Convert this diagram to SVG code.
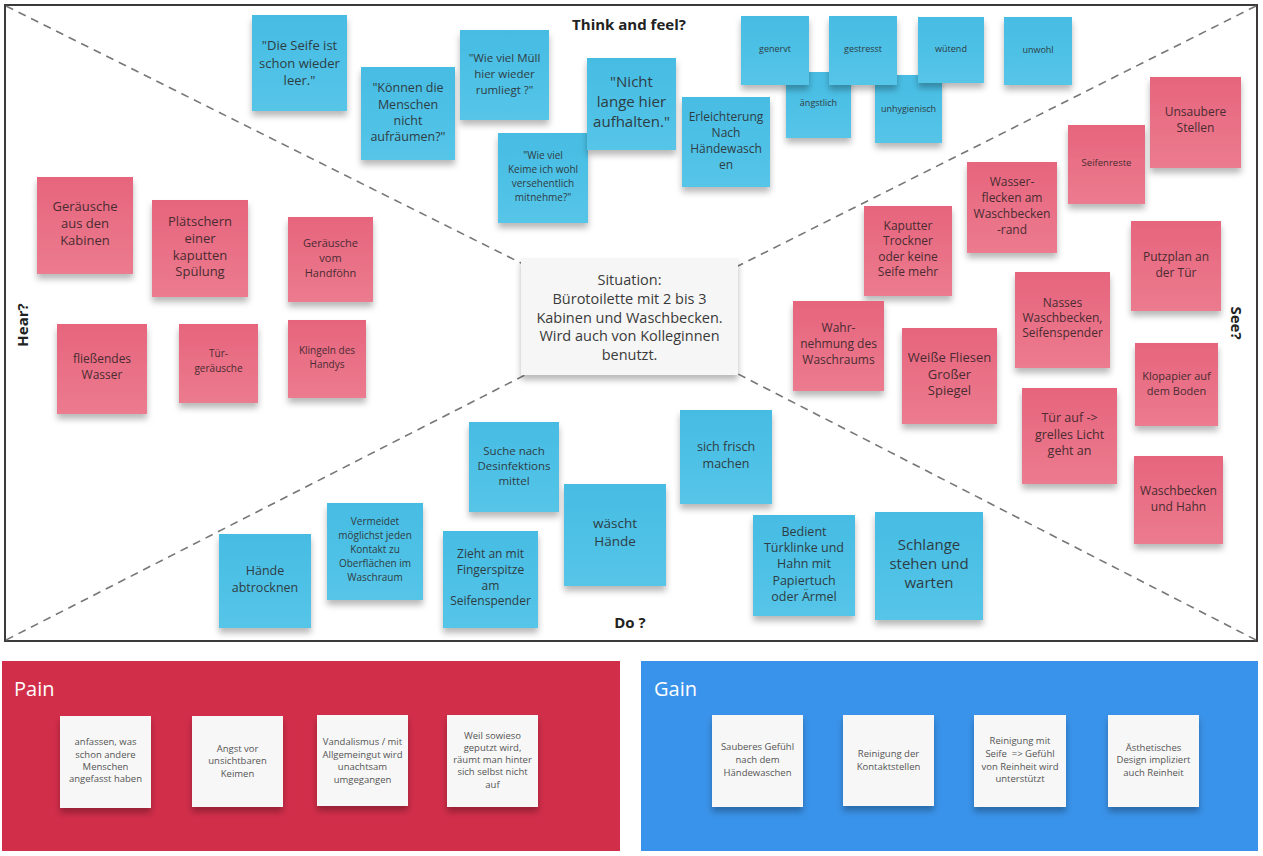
<svg xmlns="http://www.w3.org/2000/svg" width="1263" height="856" viewBox="0 0 1263 856">
<defs>
<filter id="sh" x="-20%" y="-20%" width="140%" height="150%">
<feDropShadow dx="0" dy="5" stdDeviation="3" flood-color="#000" flood-opacity="0.28"/>
</filter>
<linearGradient id="gb" x1="0" y1="0" x2="0" y2="1"><stop offset="0" stop-color="#47bce3"/><stop offset="1" stop-color="#55c5e8"/></linearGradient>
<linearGradient id="gr" x1="0" y1="0" x2="0" y2="1"><stop offset="0" stop-color="#e6657d"/><stop offset="1" stop-color="#ec7b8f"/></linearGradient>
</defs>
<style>
.b{fill:url(#gb);filter:url(#sh)}
.r{fill:url(#gr);filter:url(#sh)}
.w{fill:#f7f7f7;filter:url(#sh)}
text{font-family:"Open Sans","Noto Sans",sans-serif;text-anchor:middle;dominant-baseline:central}
.tb{fill:#2e3d44}
.tr{fill:#4a2b31}
.tw{fill:#555;font-size:9.5px}
.lbl{font-weight:bold;fill:#222;font-size:15px}
.dash{stroke:#777;stroke-width:1.6;stroke-dasharray:8 6;fill:none}
</style>
<rect x="0" y="0" width="1263" height="856" fill="#fff"/>
<rect x="5" y="5" width="1252" height="636" fill="#fff" stroke="#3a3a3a" stroke-width="2"/>
<g id="connectors">
<line class="dash" x1="6" y1="6" x2="525" y2="265"/>
<line class="dash" x1="1256" y1="6" x2="738" y2="266"/>
<line class="dash" x1="6" y1="640" x2="527" y2="374"/>
<line class="dash" x1="1256" y1="640" x2="738" y2="374"/>
</g>
<g id="situation">
<rect x="521" y="258" width="217" height="117" fill="#f6f6f6" filter="url(#sh)"/>
<text fill="#3a3a3a" font-size="14.5"><tspan x="629.5" y="279">Situation:</tspan><tspan x="629.5" y="298">Bürotoilette mit 2 bis 3</tspan><tspan x="629.5" y="317">Kabinen und Waschbecken.</tspan><tspan x="629.5" y="335">Wird auch von Kolleginnen</tspan><tspan x="629.5" y="354">benutzt.</tspan></text>
</g>
<g id="labels">
<text class="lbl" x="629" y="24">Think and feel?</text>
<text class="lbl" x="630" y="622">Do ?</text>
<text class="lbl" transform="translate(22 325) rotate(-90)" x="0" y="0">Hear?</text>
<text class="lbl" transform="translate(1237 323) rotate(90)" x="0" y="0">See?</text>
</g>
<!-- Think and feel -->
<g id="n-seife"><rect class="b" x="252" y="15" width="95" height="96"/><text class="tb" font-size="13"><tspan x="299.5" y="45">"Die Seife ist</tspan><tspan x="299.5" y="63">schon wieder</tspan><tspan x="299.5" y="80">leer."</tspan></text></g>
<g id="n-koennen"><rect class="b" x="361" y="67" width="94" height="93"/><text class="tb" font-size="12.5"><tspan x="408" y="87">"Können die</tspan><tspan x="408" y="104">Menschen</tspan><tspan x="408" y="120">nicht</tspan><tspan x="408" y="136">aufräumen?"</tspan></text></g>
<g id="n-muell"><rect class="b" x="460" y="30" width="89" height="90"/><text class="tb" font-size="11.5"><tspan x="504.5" y="57">"Wie viel Müll</tspan><tspan x="504.5" y="73">hier wieder</tspan><tspan x="504.5" y="89">rumliegt ?"</tspan></text></g>
<g id="n-keime"><rect class="b" x="498" y="133" width="90" height="90"/><text class="tb" font-size="10"><tspan x="543" y="155">"Wie viel</tspan><tspan x="543" y="169">Keime ich wohl</tspan><tspan x="543" y="183">versehentlich</tspan><tspan x="543" y="197">mitnehme?"</tspan></text></g>
<g id="n-nicht"><rect class="b" x="587" y="58" width="89" height="92"/><text class="tb" font-size="15"><tspan x="631.5" y="81">"Nicht</tspan><tspan x="631.5" y="101">lange hier</tspan><tspan x="631.5" y="121">aufhalten."</tspan></text></g>
<g id="n-erleichterung"><rect class="b" x="682" y="97" width="88" height="90"/><text class="tb" font-size="12"><tspan x="726" y="116">Erleichterung</tspan><tspan x="726" y="132">Nach</tspan><tspan x="726" y="148">Händewasch</tspan><tspan x="726" y="164">en</tspan></text></g>
<g id="n-aengstlich"><rect class="b" x="786" y="72" width="65" height="66"/><text class="tb" font-size="9"><tspan x="818.5" y="102">ängstlich</tspan></text></g>
<g id="n-unhygienisch"><rect class="b" x="875" y="75" width="67" height="68"/><text class="tb" font-size="9"><tspan x="908.5" y="108">unhygienisch</tspan></text></g>
<g id="n-genervt"><rect class="b" x="741" y="16" width="68" height="69"/><text class="tb" font-size="9"><tspan x="775" y="48">genervt</tspan></text></g>
<g id="n-gestresst"><rect class="b" x="829" y="16" width="68" height="69"/><text class="tb" font-size="9"><tspan x="863" y="48">gestresst</tspan></text></g>
<g id="n-wuetend"><rect class="b" x="918" y="17" width="66" height="66"/><text class="tb" font-size="9"><tspan x="951" y="48">wütend</tspan></text></g>
<g id="n-unwohl"><rect class="b" x="1004" y="17" width="68" height="68"/><text class="tb" font-size="9"><tspan x="1038" y="49">unwohl</tspan></text></g>
<!-- Hear -->
<g id="n-kabinen"><rect class="r" x="37" y="177" width="96" height="97"/><text class="tr" font-size="13"><tspan x="85" y="206">Geräusche</tspan><tspan x="85" y="223">aus den</tspan><tspan x="85" y="240">Kabinen</tspan></text></g>
<g id="n-plaetschern"><rect class="r" x="152" y="200" width="96" height="97"/><text class="tr" font-size="13"><tspan x="200" y="221">Plätschern</tspan><tspan x="200" y="238">einer</tspan><tspan x="200" y="255">kaputten</tspan><tspan x="200" y="271">Spülung</tspan></text></g>
<g id="n-handfoehn"><rect class="r" x="288" y="217" width="85" height="85"/><text class="tr" font-size="11"><tspan x="330.5" y="242">Geräusche</tspan><tspan x="330.5" y="257">vom</tspan><tspan x="330.5" y="272">Handföhn</tspan></text></g>
<g id="n-wasser"><rect class="r" x="57" y="324" width="90" height="90"/><text class="tr" font-size="12"><tspan x="102" y="358">fließendes</tspan><tspan x="102" y="374">Wasser</tspan></text></g>
<g id="n-tuer"><rect class="r" x="179" y="324" width="79" height="79"/><text class="tr" font-size="10"><tspan x="218.5" y="353">Tür-</tspan><tspan x="218.5" y="368">geräusche</tspan></text></g>
<g id="n-handy"><rect class="r" x="288" y="320" width="78" height="78"/><text class="tr" font-size="10"><tspan x="327" y="350">Klingeln des</tspan><tspan x="327" y="364">Handys</tspan></text></g>
<!-- See -->
<g id="n-unsauber"><rect class="r" x="1150" y="77" width="91" height="91"/><text class="tr" font-size="12"><tspan x="1195.5" y="111">Unsaubere</tspan><tspan x="1195.5" y="127">Stellen</tspan></text></g>
<g id="n-seifenreste"><rect class="r" x="1068" y="125" width="77" height="79"/><text class="tr" font-size="9.5"><tspan x="1106.5" y="162">Seifenreste</tspan></text></g>
<g id="n-flecken"><rect class="r" x="967" y="162" width="90" height="91"/><text class="tr" font-size="12"><tspan x="1012" y="181">Wasser-</tspan><tspan x="1012" y="197">flecken am</tspan><tspan x="1012" y="213">Waschbecken</tspan><tspan x="1012" y="229">-rand</tspan></text></g>
<g id="n-trockner"><rect class="r" x="864" y="206" width="88" height="90"/><text class="tr" font-size="12"><tspan x="908" y="225">Kaputter</tspan><tspan x="908" y="240">Trockner</tspan><tspan x="908" y="256">oder keine</tspan><tspan x="908" y="271">Seife mehr</tspan></text></g>
<g id="n-putzplan"><rect class="r" x="1131" y="221" width="90" height="90"/><text class="tr" font-size="12"><tspan x="1176" y="256">Putzplan an</tspan><tspan x="1176" y="272">der Tür</tspan></text></g>
<g id="n-nasses"><rect class="r" x="1015" y="272" width="95" height="96"/><text class="tr" font-size="12"><tspan x="1062.5" y="302">Nasses</tspan><tspan x="1062.5" y="317">Waschbecken,</tspan><tspan x="1062.5" y="332">Seifenspender</tspan></text></g>
<g id="n-wahrnehmung"><rect class="r" x="793" y="301" width="91" height="90"/><text class="tr" font-size="12"><tspan x="838.5" y="327">Wahr-</tspan><tspan x="838.5" y="343">nehmung des</tspan><tspan x="838.5" y="359">Waschraums</tspan></text></g>
<g id="n-fliesen"><rect class="r" x="902" y="328" width="95" height="96"/><text class="tr" font-size="13"><tspan x="949.5" y="357">Weiße Fliesen</tspan><tspan x="949.5" y="374">Großer</tspan><tspan x="949.5" y="390">Spiegel</tspan></text></g>
<g id="n-klopapier"><rect class="r" x="1135" y="343" width="83" height="83"/><text class="tr" font-size="11"><tspan x="1176.5" y="375">Klopapier auf</tspan><tspan x="1176.5" y="390">dem Boden</tspan></text></g>
<g id="n-licht"><rect class="r" x="1022" y="388" width="95" height="96"/><text class="tr" font-size="12.5"><tspan x="1069.5" y="417">Tür auf -&gt;</tspan><tspan x="1069.5" y="434">grelles Licht</tspan><tspan x="1069.5" y="450">geht an</tspan></text></g>
<g id="n-hahn"><rect class="r" x="1134" y="456" width="89" height="88"/><text class="tr" font-size="12"><tspan x="1178.5" y="490">Waschbecken</tspan><tspan x="1178.5" y="506">und Hahn</tspan></text></g>
<!-- Do -->
<g id="n-desinfektion"><rect class="b" x="469" y="422" width="90" height="90"/><text class="tb" font-size="11.5"><tspan x="514" y="450">Suche nach</tspan><tspan x="514" y="465">Desinfektions</tspan><tspan x="514" y="480">mittel</tspan></text></g>
<g id="n-frisch"><rect class="b" x="680" y="410" width="92" height="94"/><text class="tb" font-size="12.5"><tspan x="726" y="446">sich frisch</tspan><tspan x="726" y="463">machen</tspan></text></g>
<g id="n-waescht"><rect class="b" x="564" y="484" width="102" height="102"/><text class="tb" font-size="13.5"><tspan x="615" y="523">wäscht</tspan><tspan x="615" y="541">Hände</tspan></text></g>
<g id="n-vermeidet"><rect class="b" x="327" y="503" width="96" height="97"/><text class="tb" font-size="10"><tspan x="375" y="521">Vermeidet</tspan><tspan x="375" y="535">möglichst jeden</tspan><tspan x="375" y="549">Kontakt zu</tspan><tspan x="375" y="563">Oberflächen im</tspan><tspan x="375" y="577">Waschraum</tspan></text></g>
<g id="n-abtrocknen"><rect class="b" x="219" y="534" width="92" height="94"/><text class="tb" font-size="12.5"><tspan x="265" y="570">Hände</tspan><tspan x="265" y="587">abtrocknen</tspan></text></g>
<g id="n-zieht"><rect class="b" x="443" y="531" width="95" height="97"/><text class="tb" font-size="12"><tspan x="490.5" y="553">Zieht an mit</tspan><tspan x="490.5" y="569">Fingerspitze</tspan><tspan x="490.5" y="585">am</tspan><tspan x="490.5" y="600">Seifenspender</tspan></text></g>
<g id="n-bedient"><rect class="b" x="753" y="515" width="102" height="101"/><text class="tb" font-size="12.5"><tspan x="804" y="531">Bedient</tspan><tspan x="804" y="547">Türklinke und</tspan><tspan x="804" y="563">Hahn mit</tspan><tspan x="804" y="580">Papiertuch</tspan><tspan x="804" y="596">oder Ärmel</tspan></text></g>
<g id="n-schlange"><rect class="b" x="875" y="512" width="108" height="108"/><text class="tb" font-size="15"><tspan x="929" y="544">Schlange</tspan><tspan x="929" y="563">stehen und</tspan><tspan x="929" y="582">warten</tspan></text></g>
<!-- Pain -->
<g id="pain">
<rect x="2" y="661" width="618" height="190" fill="#d12e4a"/>
<text x="14" y="688" font-size="20" fill="#fff" style="text-anchor:start">Pain</text>
</g>
<g id="p1"><rect class="w" x="60" y="716" width="91" height="92"/><text class="tw"><tspan x="105.5" y="741">anfassen, was</tspan><tspan x="105.5" y="754">schon andere</tspan><tspan x="105.5" y="766">Menschen</tspan><tspan x="105.5" y="778">angefasst haben</tspan></text></g>
<g id="p2"><rect class="w" x="192" y="716" width="91" height="91"/><text class="tw"><tspan x="237.5" y="748">Angst vor</tspan><tspan x="237.5" y="760">unsichtbaren</tspan><tspan x="237.5" y="773">Keimen</tspan></text></g>
<g id="p3"><rect class="w" x="317" y="715" width="91" height="91"/><text class="tw"><tspan x="362.5" y="741">Vandalismus / mit</tspan><tspan x="362.5" y="754">Allgemeingut wird</tspan><tspan x="362.5" y="766">unachtsam</tspan><tspan x="362.5" y="779">umgegangen</tspan></text></g>
<g id="p4"><rect class="w" x="447" y="715" width="91" height="92"/><text class="tw"><tspan x="492.5" y="735">Weil sowieso</tspan><tspan x="492.5" y="747">geputzt wird,</tspan><tspan x="492.5" y="759">räumt man hinter</tspan><tspan x="492.5" y="771">sich selbst nicht</tspan><tspan x="492.5" y="784">auf</tspan></text></g>
<!-- Gain -->
<g id="gain">
<rect x="641" y="661" width="617" height="190" fill="#3a93ea"/>
<text x="654" y="688" font-size="20" fill="#fff" style="text-anchor:start">Gain</text>
</g>
<g id="g1"><rect class="w" x="712" y="715" width="91" height="92"/><text class="tw"><tspan x="757.5" y="746">Sauberes Gefühl</tspan><tspan x="757.5" y="759">nach dem</tspan><tspan x="757.5" y="772">Händewaschen</tspan></text></g>
<g id="g2"><rect class="w" x="843" y="715" width="91" height="91"/><text class="tw"><tspan x="888.5" y="753">Reinigung der</tspan><tspan x="888.5" y="766">Kontaktstellen</tspan></text></g>
<g id="g3"><rect class="w" x="974" y="715" width="92" height="92"/><text class="tw"><tspan x="1020" y="740">Reinigung mit</tspan><tspan x="1020" y="753">Seife &#160;=&gt; Gefühl</tspan><tspan x="1020" y="766">von Reinheit wird</tspan><tspan x="1020" y="778">unterstützt</tspan></text></g>
<g id="g4"><rect class="w" x="1108" y="715" width="91" height="92"/><text class="tw"><tspan x="1153.5" y="747">Ästhetisches</tspan><tspan x="1153.5" y="759">Design impliziert</tspan><tspan x="1153.5" y="772">auch Reinheit</tspan></text></g>
</svg>
